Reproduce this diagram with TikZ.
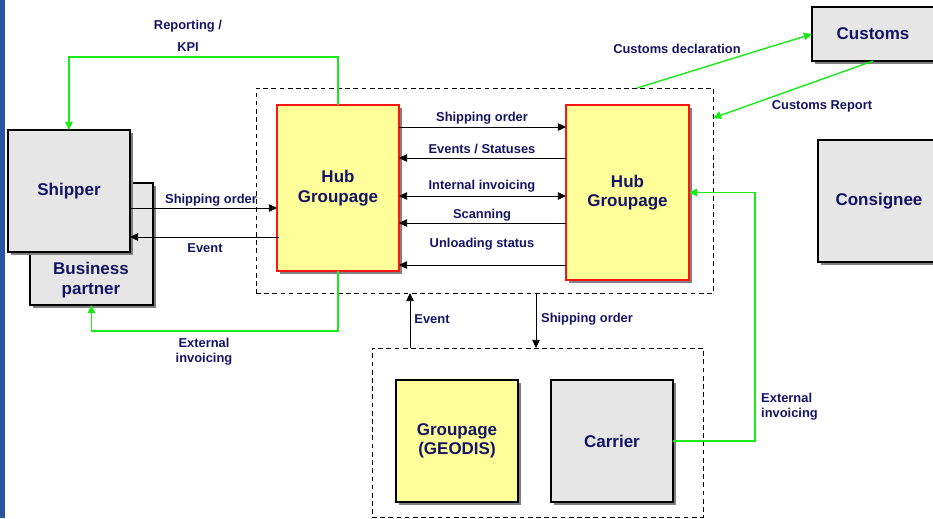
\documentclass[tikz,border=0pt]{standalone}
\usepackage{fontspec}
\setmainfont{Liberation Sans}
\usetikzlibrary{arrows.meta,calc,shadows}
\definecolor{navytext}{RGB}{20,20,100}
\definecolor{linkgreen}{RGB}{25,235,25}
\definecolor{boxgray}{RGB}{230,230,230}
\definecolor{hubyellow}{RGB}{255,255,153}
\definecolor{hubred}{RGB}{255,20,20}
\definecolor{sidebar}{RGB}{40,85,160}
\tikzset{
  box/.style={draw, line width=1.2pt, fill=boxgray, inner sep=0pt, outer sep=0pt,
    minimum width=3.66cm, minimum height=3.66cm, align=center, text=navytext,
    font=\fontsize{14.5}{16.5}\selectfont\bfseries,
    drop shadow={shadow xshift=2.5pt, shadow yshift=-2.5pt, fill=black!50, opacity=1}},
  hub/.style={box, draw=hubred, line width=1.1pt, fill=hubyellow},
  bigtext/.style={text=navytext, font=\fontsize{14.5}{16.5}\selectfont\bfseries, align=center, inner sep=0pt},
  frame/.style={draw, dash pattern=on 4pt off 3pt, line width=0.8pt, inner sep=0pt, outer sep=0pt},
  flow/.style={line width=0.8pt},
  link/.style={draw=linkgreen, line width=1.2pt},
  lbl/.style={text=navytext, font=\fontsize{11}{13}\selectfont\bfseries, align=center, inner sep=0pt},
}
\begin{document}
\begin{tikzpicture}[x=0.03cm,y=-0.03cm,>={Triangle[length=7pt,width=6.5pt]}]
  \useasboundingbox (0,0) rectangle (933,518);
  \clip (0,0) rectangle (933,518);
  %
  % Side bar
  \fill[sidebar] (0,0) rectangle (5,518);
  %
  % Dashed frames
  \node[frame, minimum width=13.71cm, minimum height=6.15cm] (hubs) at (484.5,190.5) {};
  \node[frame, minimum width=9.93cm, minimum height=5.07cm] (local) at (537.5,432.5) {};
  %
  % Boxes
  \node[box, minimum width=3.69cm] (partner) at (91.5,244) {};
  \node[bigtext] (partnertext) at (91,280) {Business\\partner};
  \node[box] (shipper) at (69,191) {Shipper};
  \node[hub, minimum height=4.98cm] (hubL) at (338,188) {Hub\\Groupage};
  \node[hub, minimum width=3.69cm, minimum height=5.25cm] (hubR) at (627.5,192.5) {Hub\\Groupage};
  \node[box, fill=hubyellow] (geodis) at (457,441) {Groupage\\(GEODIS)};
  \node[box] (carrier) at (612,441) {Carrier};
  \node[box, minimum height=1.62cm] (customs) at (873,34) {Customs};
  \node[box] (consignee) at (879,201) {Consignee};
  %
  % Shipper <-> hub
  \draw[flow,->] ($(shipper.east)+(0,17)$) -- ($(hubL.west)+(0,20)$);
  \node[lbl] (order1) at (211,200) {Shipping order};
  \draw[flow,->] ($(hubL.west)+(2,49)$) -- ($(shipper.east)+(0,46)$);
  \node[lbl] (event1) at (205,248) {Event};
  %
  % Hub <-> hub
  \foreach \y/\ly/\txt/\dir in {127/118/{Shipping order}/->,
      158/149/{Events / Statuses}/<-, 196/186/{Internal invoicing}/<->,
      223/215/{Scanning}/<-, 265/244/{Unloading status}/<-}{
    \draw[flow,\dir] (hubL.east |- 0,\y) -- (hubR.west |- 0,\y);
    \node[lbl] (hubflow\y) at (482,\ly) {\txt};
  }
  %
  % Hubs <-> local partners
  \draw[flow,->] (local.north -| 410,0) -- (hubs.south -| 410,0);
  \node[lbl] (event2) at (432,319) {Event};
  \draw[flow,->] (hubs.south -| 536,0) -- (local.north -| 536,0);
  \node[lbl] (order2) at (587,319) {Shipping order};
  %
  % Green links
  \draw[link,->] (hubL.north) -- ++(0,-48) -| (shipper.north);
  \node[lbl] (kpi) at (188,36) {Reporting /\\[6pt]KPI};
  \draw[link,->] (hubL.south) -- ++(0,60) -| (partner.south);
  \node[lbl] (invoiceL) at (204,352) {External\\invoicing};
  \draw[link,->] (hubs.north -| 637,0) -- (customs.west);
  \node[lbl] (declaration) at (677,49) {Customs declaration};
  \draw[link,->] (customs.south) -- (hubs.east |- 0,118);
  \node[lbl] (report) at (822,106) {Customs Report};
  \draw[link,->] (carrier.east) -- ++(82,0) |- (hubR.east);
  \node[lbl, align=left, anchor=west] (invoiceR) at (761,407) {External\\invoicing};
  %
\end{tikzpicture}
\end{document}
